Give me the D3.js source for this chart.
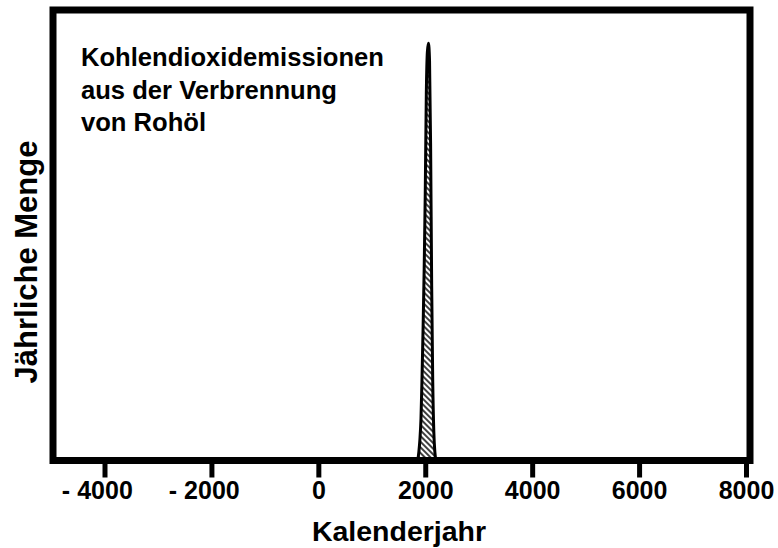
<!DOCTYPE html>
<meta charset="utf-8">
<body style="margin:0;background:#fff">
<script src="https://d3js.org/d3.v7.min.js"></script>
<svg id="chart" width="778" height="548"></svg>
<script>
// estimated yearly amount (relative units, peak = 100)
var years  = [1860, 1880, 1900, 1920, 1940, 1960, 1980, 2000, 2020, 2040, 2060, 2080, 2100, 2120, 2140, 2160, 2180, 2200];
var amount = [0,    2,    5,    10,   20,   32,   46,   64,   88,   98,   100,  96,   76,   42,   19,   7,    2,    0];
var xTicks = [-4000, -2000, 0, 2000, 4000, 6000, 8000];
var titleLines = ["Kohlendioxidemissionen", "aus der Verbrennung", "von Rohöl"];

var svg = d3.select("#chart"),
    font = "'Liberation Sans', Arial, Helvetica, sans-serif";

var x = d3.scaleLinear().domain([-4000, 8000]).range([104.5, 746]);
var y = d3.scaleLinear().domain([0, 108]).range([460.5, 10]);

// hatch pattern
var defs = svg.append("defs");
defs.append("pattern")
    .attr("id", "hatch")
    .attr("patternUnits", "userSpaceOnUse")
    .attr("width", 4).attr("height", 4)
    .attr("patternTransform", "rotate(-45)")
  .append("line")
    .attr("x1", 1).attr("y1", 0).attr("x2", 1).attr("y2", 4)
    .attr("stroke", "#000").attr("stroke-width", 1.5);

var data = years.map(function(d, i) { return {year: d, v: amount[i]}; });

var area = d3.area()
    .x(function(d) { return x(d.year); })
    .y0(y(0))
    .y1(function(d) { return y(d.v); })
    .curve(d3.curveMonotoneX);

svg.append("path")
    .datum(data)
    .attr("d", area)
    .attr("fill", "url(#hatch)")
    .attr("stroke", "#000")
    .attr("stroke-width", 3)
    .attr("stroke-linejoin", "round");

// x axis
var axis = svg.append("g")
    .attr("transform", "translate(0," + y(0) + ")")
    .call(d3.axisBottom(x).tickValues(xTicks)
        .tickSize(17).tickPadding(4)
        .tickFormat(function(d) { return Math.abs(d); }));
axis.select(".domain").remove();
axis.selectAll(".tick line").attr("stroke", "#000").attr("stroke-width", 5);
axis.selectAll(".tick text")
    .attr("fill", "#000")
    .style("font-family", font).style("font-weight", "bold").style("font-size", "25px");
axis.selectAll(".tick").filter(function(d) { return d < 0; })
    .each(function() {
      var t = d3.select(this).select("text"),
          w = t.node().getBBox().width;
      d3.select(this).append("text")
          .attr("x", -w / 2 - 7).attr("y", t.attr("y")).attr("dy", "0.71em")
          .attr("text-anchor", "end").attr("fill", "#000")
          .style("font-family", font).style("font-weight", "bold").style("font-size", "25px")
          .text("-");
    });

// frame
svg.append("rect")
    .attr("x", 53).attr("y", 10)
    .attr("width", 750 - 53).attr("height", y(0) - 10)
    .attr("fill", "none").attr("stroke", "#000").attr("stroke-width", 7);

// inset title
svg.append("text")
    .attr("x", 81).attr("y", 66)
    .style("font-family", font).style("font-weight", "bold").style("font-size", "25.6px")
  .selectAll("tspan").data(titleLines).join("tspan")
    .attr("x", 81).attr("dy", function(d, i) { return i ? 32.5 : 0; })
    .text(function(d) { return d; });

// axis titles
svg.append("text")
    .attr("x", 399).attr("y", 541)
    .attr("text-anchor", "middle")
    .style("font-family", font).style("font-weight", "bold").style("font-size", "28.5px")
    .text("Kalenderjahr");

svg.append("text")
    .attr("transform", "translate(37,262) rotate(-90)")
    .attr("text-anchor", "middle")
    .style("font-family", font).style("font-weight", "bold").style("font-size", "31px")
    .text("Jährliche Menge");
</script>
</body>
